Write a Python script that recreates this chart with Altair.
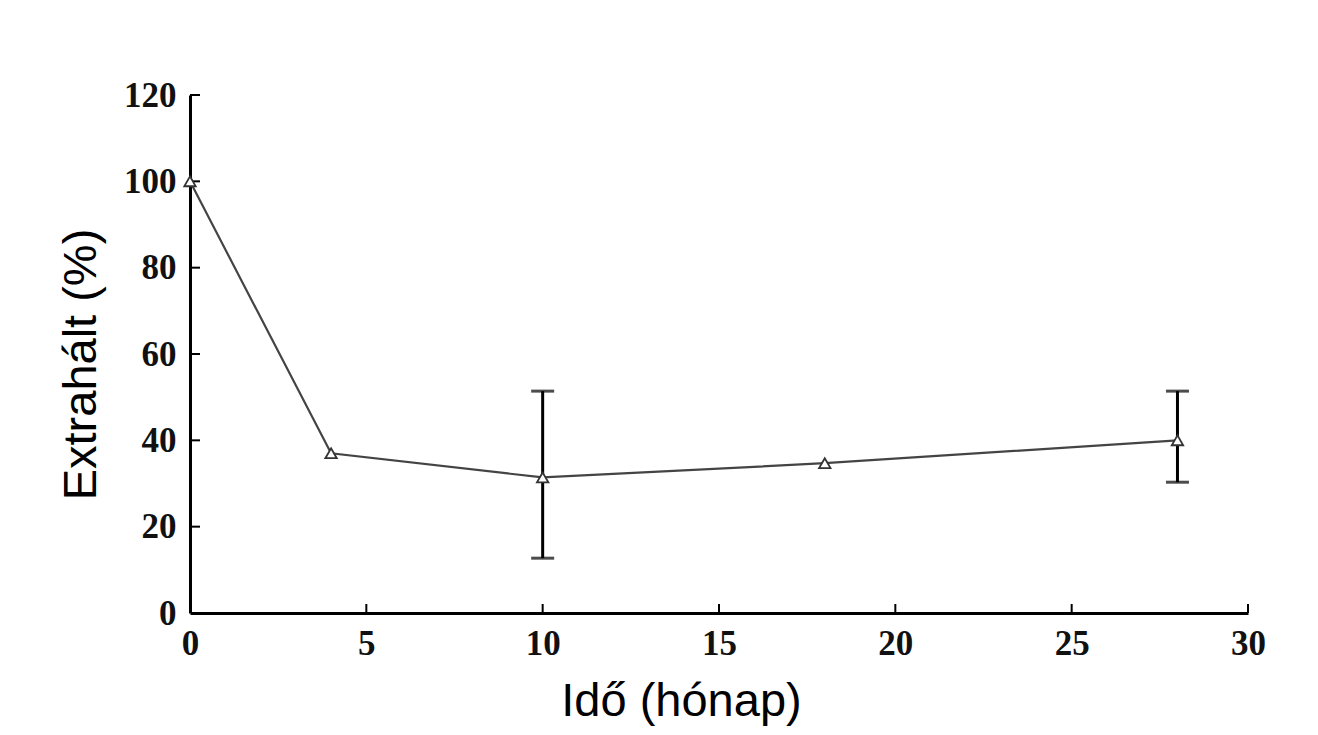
import altair as alt
import pandas as pd

# data
months = [0, 4, 10, 18, 28]
extracted = [100, 37.0, 31.4, 34.7, 40.0]
err_x = [10, 28]
err_low = [12.7, 30.3]
err_high = [51.4, 51.4]
x_ticks = [0, 5, 10, 15, 20, 25, 30]
y_ticks = [0, 20, 40, 60, 80, 100, 120]

df = pd.DataFrame({"t": months, "v": extracted})
df_err = pd.DataFrame({"t": err_x, "lo": err_low, "hi": err_high})
df_xt = pd.DataFrame({"t": x_ticks[1:]})
df_yt = pd.DataFrame({"v": y_ticks[1:]})

W, H = 1058, 518

xscale = alt.Scale(domain=[0, 30], nice=False, zero=False)
yscale = alt.Scale(domain=[0, 120], nice=False, zero=False)

label_font = "Liberation Serif"
title_font = "Liberation Sans"

xaxis = alt.Axis(
    values=x_ticks, ticks=False, grid=False,
    domainColor="black", domainWidth=3,
    labelFont=label_font, labelFontWeight="bold", labelFontSize=35, labelColor="#111",
    labelPadding=13, labelFlush=False,
    title="Idő (hónap)", titleFont=title_font, titleFontSize=47, titleFontWeight="normal",
    titleColor="black", titleX=491, titleY=102, titleBaseline="alphabetic", titleAnchor="middle",
)
yaxis = alt.Axis(
    values=y_ticks, ticks=False, grid=False,
    domainColor="black", domainWidth=3,
    labelFont=label_font, labelFontWeight="bold", labelFontSize=35, labelColor="#111",
    labelPadding=14, labelFlush=False,
    title="Extrahált (%)", titleFont=title_font, titleFontSize=47, titleFontWeight="normal",
    titleColor="black", titleX=-95, titleY=269, titleBaseline="alphabetic", titleAngle=-90,
)

base_x = alt.X("t:Q", scale=xscale, axis=xaxis)
base_y = alt.Y("v:Q", scale=yscale, axis=yaxis)

line = alt.Chart(df).mark_line(color="#444444", strokeWidth=2.2).encode(x=base_x, y=base_y)

err_rule = alt.Chart(df_err).mark_rule(color="black", strokeWidth=3).encode(
    x=alt.X("t:Q", scale=xscale), y=alt.Y("lo:Q", scale=yscale), y2="hi:Q"
)
cap_lo = alt.Chart(df_err).mark_tick(color="black", orient="horizontal", size=23, thickness=3).encode(
    x=alt.X("t:Q", scale=xscale), y=alt.Y("lo:Q", scale=yscale)
)
cap_hi = alt.Chart(df_err).mark_tick(color="black", orient="horizontal", size=23, thickness=3).encode(
    x=alt.X("t:Q", scale=xscale), y=alt.Y("hi:Q", scale=yscale)
)

points = alt.Chart(df).mark_point(
    shape="triangle-up", size=130, filled=True, fill="white", stroke="#333", strokeWidth=1.8, opacity=1
).encode(x=alt.X("t:Q", scale=xscale), y=alt.Y("v:Q", scale=yscale))

xt = alt.Chart(df_xt).mark_rule(color="black", strokeWidth=2).encode(
    x=alt.X("t:Q", scale=xscale), y=alt.value(H), y2=alt.value(H - 9)
)
yt = alt.Chart(df_yt).mark_rule(color="black", strokeWidth=2).encode(
    y=alt.Y("v:Q", scale=yscale), x=alt.value(0), x2=alt.value(10)
)

chart = alt.layer(xt, yt, line, err_rule, cap_lo, cap_hi, points).properties(
    width=W, height=H,
    autosize=alt.AutoSizeParams(type="none"),
    padding={"left": 182, "top": 87, "right": 50, "bottom": 122},
    background="white",
).configure_view(stroke=None)

chart.save("out.html", embed_options={"renderer": "svg", "actions": False})
